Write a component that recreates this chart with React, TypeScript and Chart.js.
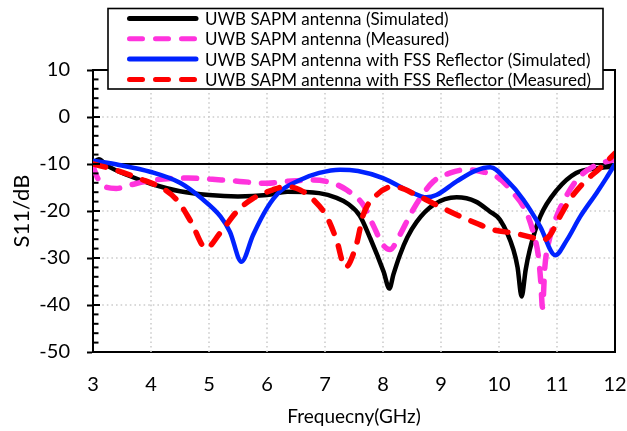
import React, { useEffect, useRef } from "react";
import { Chart, registerables } from "chart.js";

Chart.register(...registerables);

// ---- Data ----
const xTickValues = [3, 4, 5, 6, 7, 8, 9, 10, 11, 12];
const yTickValues = [10, 0, -10, -20, -30, -40, -50];
const seriesNames = [
  "UWB SAPM antenna (Simulated)",
  "UWB SAPM antenna (Measured)",
  "UWB SAPM antenna with FSS Reflector (Simulated)",
  "UWB SAPM antenna with FSS Reflector (Measured)",
];
const xTitle = "Frequecny(GHz)";
const yTitle = "S11/dB";
const referenceLevel = -10;

const simFreq = [3.0, 3.1, 3.25, 3.6, 4.0, 4.5, 5.0, 5.5, 6.0, 6.35, 6.9, 7.2, 7.4, 7.6, 7.78, 8.01, 8.11, 8.18, 8.29, 8.42, 8.58, 8.87, 9.27, 9.6, 9.84, 10.02, 10.25, 10.32, 10.39, 10.46, 10.53, 10.71, 11.0, 11.33, 11.68, 12.0];
const simS11 = [-9.8, -9.0, -10.4, -12.4, -14.2, -15.8, -16.6, -16.9, -16.6, -15.9, -16.2, -17.2, -18.5, -21.0, -25.8, -32.9, -36.5, -33.5, -29.4, -25.6, -22.3, -18.7, -17.1, -18.0, -20.1, -21.9, -28.3, -32.0, -38.2, -32.5, -28.3, -21.2, -15.5, -11.9, -10.9, -10.5];

const measFreq = [3.0, 3.08, 3.2, 3.4, 3.66, 4.06, 4.64, 5.21, 5.53, 6.0, 6.33, 6.8, 7.14, 7.37, 7.66, 7.83, 8.0, 8.12, 8.29, 8.47, 8.64, 8.87, 9.16, 9.44, 9.73, 9.96, 10.25, 10.48, 10.6, 10.68, 10.72, 10.75, 10.79, 10.86, 10.94, 11.05, 11.34, 11.63, 12.0];
const measS11 = [-10.5, -13.0, -14.8, -15.2, -14.4, -13.4, -13.0, -13.4, -13.7, -14.1, -13.7, -13.4, -14.1, -15.5, -18.7, -23.0, -27.2, -28.2, -25.1, -20.8, -17.3, -13.7, -11.9, -11.2, -11.7, -12.7, -16.2, -20.5, -25.0, -29.7, -35.0, -40.5, -32.0, -26.5, -23.0, -19.5, -13.4, -10.5, -9.0];

const fssSimFreq = [3.0, 3.45, 4.0, 4.5, 4.87, 5.2, 5.36, 5.56, 5.76, 6.0, 6.22, 6.57, 6.9, 7.26, 7.57, 8.0, 8.47, 8.75, 8.92, 9.27, 9.6, 9.85, 10.13, 10.42, 10.71, 10.97, 11.17, 11.4, 11.68, 11.85, 12.0];
const fssSimS11 = [-9.3, -10.2, -11.7, -14.0, -17.3, -21.2, -24.4, -30.8, -25.1, -19.4, -15.9, -13.4, -11.9, -11.2, -11.5, -13.0, -15.9, -17.1, -16.6, -13.7, -11.4, -10.7, -13.4, -17.6, -23.3, -29.4, -26.2, -21.2, -16.2, -13.0, -10.0];

const fssMeasFreq = [3.0, 3.37, 3.78, 4.24, 4.47, 4.69, 4.95, 5.19, 5.48, 5.76, 6.1, 6.33, 6.57, 6.8, 7.03, 7.2, 7.35, 7.54, 7.66, 7.89, 8.18, 8.58, 8.92, 9.27, 9.61, 9.9, 10.25, 10.53, 10.75, 10.88, 11.05, 11.22, 11.45, 11.74, 12.0];
const fssMeasS11 = [-10.0, -11.2, -13.0, -15.5, -18.0, -22.3, -27.9, -24.7, -20.1, -17.3, -15.5, -14.8, -15.5, -17.6, -21.2, -26.2, -32.0, -27.2, -20.8, -16.6, -14.8, -16.6, -18.7, -20.8, -22.6, -24.0, -24.7, -25.5, -26.2, -25.1, -21.2, -17.6, -14.1, -10.9, -7.7];

// ---- Styles ----
const COLORS = ["#000000", "#FF33DD", "#0022FF", "#FF0000"];
const DASHED = [false, true, false, true];
const DASH = [13, 13];
const FONT = "Lato, 'Open Sans', sans-serif";
const GRID_COLOR = "#CDCDCD";

const toPoints = (xs: number[], ys: number[]) => xs.map((x, i) => ({ x, y: ys[i] }));

const gridPlugin = {
  id: "dottedGrid",
  beforeDatasetsDraw(chart: any) {
    const { ctx, chartArea: a, scales } = chart;
    ctx.save();
    ctx.strokeStyle = GRID_COLOR;
    ctx.lineWidth = 1.6;
    ctx.setLineDash([1.6, 3]);
    xTickValues.slice(1, -1).forEach((v) => {
      const px = Math.round(scales.x.getPixelForValue(v));
      ctx.beginPath();
      ctx.moveTo(px, a.top);
      ctx.lineTo(px, a.bottom);
      ctx.stroke();
    });
    yTickValues.slice(1, -1).forEach((v) => {
      const py = Math.round(scales.y.getPixelForValue(v));
      ctx.beginPath();
      ctx.moveTo(a.left, py);
      ctx.lineTo(a.right, py);
      ctx.stroke();
    });
    ctx.restore();
  },
};

const framePlugin = {
  id: "frameAndLegend",
  afterDraw(chart: any) {
    const { ctx, chartArea: a, scales } = chart;
    const y = scales.y;
    ctx.save();
    ctx.strokeStyle = "#000";
    ctx.lineWidth = 2;
    ctx.setLineDash([]);
    ctx.beginPath();
    ctx.moveTo(a.left, a.top);
    ctx.lineTo(a.right, a.top);
    ctx.lineTo(a.right, a.bottom);
    ctx.stroke();
    const yMin = yTickValues[yTickValues.length - 1];
    const yMax = yTickValues[0];
    for (let v = yMin; v <= yMax; v += 2) {
      const py = y.getPixelForValue(v);
      const major = v % 10 === 0;
      ctx.beginPath();
      ctx.moveTo(a.left, py);
      ctx.lineTo(a.left + (major ? 7 : 5.5), py);
      ctx.stroke();
    }
    // legend
    const lx = a.left + 15;
    const rx = a.right - 12;
    const ty = 8.5;
    const by = a.top + 19;
    ctx.fillStyle = "#fff";
    ctx.fillRect(lx, ty, rx - lx, by - ty);
    ctx.lineWidth = 1.6;
    ctx.strokeRect(lx, ty, rx - lx, by - ty);
    ctx.font = `17px ${FONT}`;
    ctx.textBaseline = "middle";
    ctx.textAlign = "left";
    seriesNames.forEach((name, i) => {
      const ry = ty + 10 + i * 20.3;
      ctx.strokeStyle = COLORS[i];
      ctx.lineWidth = 5;
      ctx.lineCap = "round";
      ctx.setLineDash(DASHED[i] ? DASH : []);
      ctx.beginPath();
      ctx.moveTo(lx + 21.5, ry);
      ctx.lineTo(lx + 88, ry);
      ctx.stroke();
      ctx.setLineDash([]);
      ctx.fillStyle = "#000";
      ctx.fillText(name, lx + 97, ry + 1);
    });
    ctx.restore();
  },
};

export default function App() {
  const ref = useRef<HTMLCanvasElement | null>(null);
  useEffect(() => {
    if (!ref.current) return;
    const xsList = [simFreq, measFreq, fssSimFreq, fssMeasFreq];
    const ysList = [simS11, measS11, fssSimS11, fssMeasS11];
    const datasets: any[] = seriesNames.map((name, i) => ({
      label: name,
      data: toPoints(xsList[i], ysList[i]),
      borderColor: COLORS[i],
      backgroundColor: COLORS[i],
      borderWidth: DASHED[i] ? 5.5 : 4.5,
      borderDash: DASHED[i] ? DASH : [],
      borderCapStyle: DASHED[i] ? "round" : "butt",
      borderJoinStyle: "round",
      pointRadius: 0,
      cubicInterpolationMode: "monotone",
      fill: false,
      order: 4 - i,
    }));
    datasets.push({
      label: "ref",
      data: [
        { x: xTickValues[0], y: referenceLevel },
        { x: xTickValues[xTickValues.length - 1], y: referenceLevel },
      ],
      borderColor: "#000",
      borderWidth: 2,
      pointRadius: 0,
      fill: false,
      order: 10,
    });
    const chart = new Chart(ref.current, {
      type: "line",
      data: { datasets },
      plugins: [gridPlugin, framePlugin],
      options: {
        animation: false,
        responsive: false,
        devicePixelRatio: 1,
        layout: { padding: { left: 0, right: 12, top: 70, bottom: 0 } },
        plugins: { legend: { display: false }, tooltip: { enabled: false } },
        scales: {
          x: {
            type: "linear",
            min: xTickValues[0],
            max: xTickValues[xTickValues.length - 1],
            afterBuildTicks: (s: any) => {
              s.ticks = xTickValues.map((v) => ({ value: v }));
            },
            afterFit: (s: any) => {
              s.height = 79;
              s.paddingLeft = 0;
              s.paddingRight = 0;
            },
            ticks: { color: "#000", font: { family: FONT, size: 20 }, padding: 21, maxRotation: 0, autoSkip: false },
            grid: { color: "rgba(0,0,0,0)", drawTicks: false },
            border: { color: "#000", width: 2 },
            title: { display: true, text: xTitle, color: "#000", font: { family: FONT, size: 19, lineHeight: 1 }, padding: { top: 0, bottom: 5 } },
          },
          y: {
            type: "linear",
            min: yTickValues[yTickValues.length - 1],
            max: yTickValues[0],
            afterBuildTicks: (s: any) => {
              s.ticks = [...yTickValues].reverse().map((v) => ({ value: v }));
            },
            afterFit: (s: any) => {
              s.width = 93;
              s.paddingTop = 0;
              s.paddingBottom = 0;
            },
            ticks: { color: "#000", font: { family: FONT, size: 20 }, padding: 17, autoSkip: false },
            grid: { color: "rgba(0,0,0,0)", tickLength: 6, tickColor: "#000", tickWidth: 2 },
            border: { color: "#000", width: 2 },
            title: { display: true, text: yTitle, color: "#000", font: { family: FONT, size: 22, lineHeight: 1 }, padding: { top: 11, bottom: 0 } },
          },
        },
      } as any,
    });
    return () => chart.destroy();
  }, []);
  return (
    <div style={{ position: "absolute", left: 0, top: 0, width: 627, height: 431, background: "#fff" }}>
      <canvas ref={ref} width={627} height={431} style={{ width: 627, height: 431, display: "block" }} />
    </div>
  );
}
